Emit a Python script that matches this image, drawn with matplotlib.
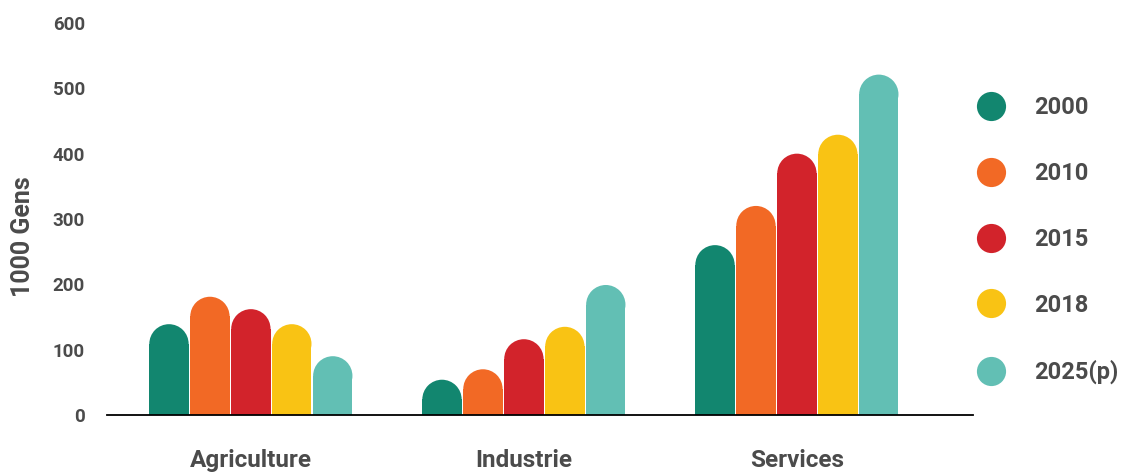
import matplotlib
matplotlib.use("Agg")
import matplotlib.pyplot as plt
import numpy as np
from matplotlib.lines import Line2D
from matplotlib.patches import Rectangle, Ellipse

# data
sectors = ["Agriculture", "Industrie", "Services"]
years   = ["2000", "2010", "2015", "2018", "2025(p)"]
values  = {
  "2000":    [139,  54, 260],
  "2010":    [181,  70, 320],
  "2015":    [162, 116, 400],
  "2018":    [139, 135, 429],
  "2025(p)": [ 90, 199, 521],
}
colors  = ["#12866F", "#F26925", "#D2232B", "#F9C314", "#62BFB4"]
yticks  = [0, 100, 200, 300, 400, 500, 600]

txt_grey  = "#4B4B4B"
tick_font = ["Roboto", "DejaVu Sans"]

W, H, DPI = 1125, 473, 100
fig = plt.figure(figsize=(W / DPI, H / DPI), dpi=DPI)
ax  = fig.add_axes([107 / W, 58 / H, 866 / W, 392 / H])

x_lo, x_hi = -0.527, 2.645
ax.set_xlim(x_lo, x_hi)
ax.set_ylim(0, 600)

bar_w  = 0.150
x      = np.arange(len(sectors))
offs   = (np.arange(len(years)) - (len(years) - 1) / 2) * bar_w

# height of the rounded cap, in data units along y, so it draws as a circle
px_per_x = 866 / (x_hi - x_lo)
px_per_y = 392 / 600.0
w        = bar_w - 0.006
cap_h    = w * px_per_x / px_per_y

for i, yr in enumerate(years):
  for xi, v in zip(x + offs[i], values[yr]):
    r = cap_h / 2
    ax.add_patch(Rectangle((xi - w / 2, 0), w, v - r, facecolor=colors[i],
                           edgecolor="none", zorder=2))
    ax.add_patch(Ellipse((xi, v - r), w, cap_h, facecolor=colors[i],
                         edgecolor="none", zorder=2))

# axes styling
for s in ["left", "right", "top"]:
  ax.spines[s].set_visible(False)
ax.spines["bottom"].set_color("black")
ax.spines["bottom"].set_linewidth(1.3)
ax.spines["bottom"].set_zorder(3)

ax.set_yticks(yticks)
ax.set_yticklabels([str(t) for t in yticks], family=tick_font,
                   fontweight="bold", fontsize=13.5, color=txt_grey)
ax.tick_params(axis="y", length=0, pad=16)
ax.set_xticks([])

for xi, name in zip(x, sectors):
  ax.annotate(name, xy=(xi, 0), xytext=(0, -45), textcoords="offset pixels",
              ha="center", va="center", family=tick_font, fontweight="bold",
              fontsize=17.5, color=txt_grey)

fig.text(23 / W, 1 - 237 / H, "1000 Gens", rotation=90, ha="center", va="center",
         family=tick_font, fontweight="bold", fontsize=18, color=txt_grey)

# legend
handles = [Line2D([], [], linestyle="none", marker="o", markersize=21,
                  markerfacecolor=c, markeredgecolor="none") for c in colors]
leg = fig.legend(handles, years, loc="center left",
                 bbox_to_anchor=(977 / W, 1 - 240 / H), frameon=False,
                 borderpad=0, borderaxespad=0, handlelength=1.2,
                 handletextpad=1.2, labelspacing=1.82,
                 prop={"family": tick_font, "weight": "bold", "size": 17})
for t in leg.get_texts():
  t.set_color(txt_grey)

fig.savefig("out.png", dpi=DPI)
